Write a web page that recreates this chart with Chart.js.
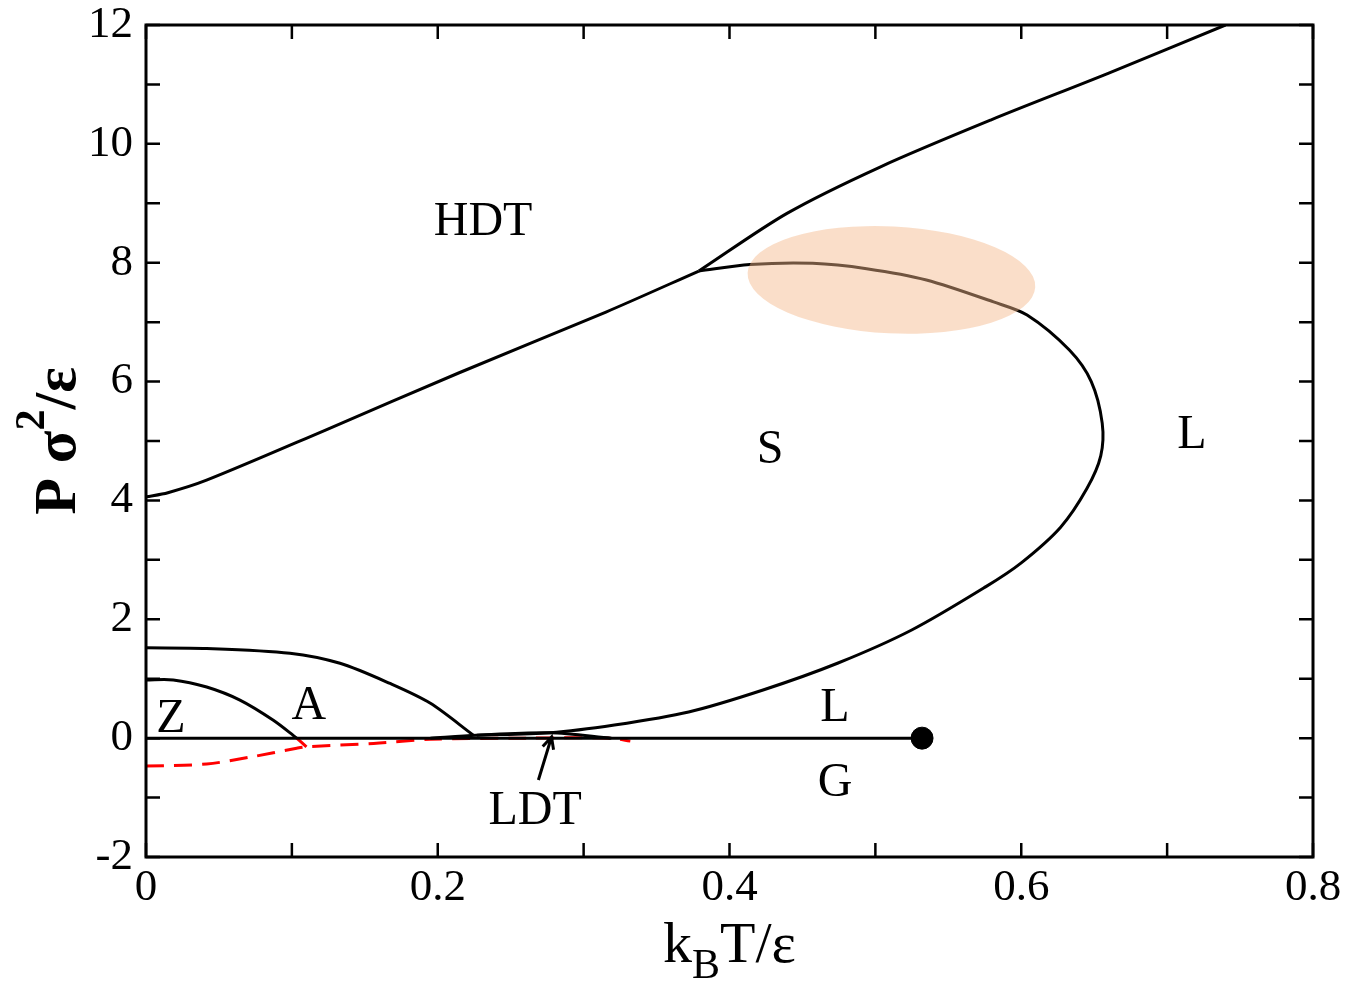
<!DOCTYPE html>
<html>
<head>
<meta charset="utf-8">
<script src="https://cdn.jsdelivr.net/npm/chart.js@4"></script>
<style>
  body { margin: 0; background: #fff; }
</style>
</head>
<body>
<canvas id="myChart" width="1346" height="990"></canvas>
<script>
// phase boundaries (T = kB T/eps, P = P sigma^2/eps)
var upperT = [0, 0.015, 0.0415, 0.1227, 0.2139, 0.3153, 0.379];
var upperP = [4.06, 4.13, 4.34, 5.18, 6.14, 7.17, 7.86];

var hdtT = [0.379, 0.4394, 0.5032, 0.579, 0.660, 0.740];
var hdtP = [7.86, 8.83, 9.61, 10.40, 11.19, 12.0];

var meltT = [0.379, 0.414, 0.457, 0.494, 0.535, 0.581, 0.604, 0.633, 0.648, 0.6555, 0.6545, 0.645, 0.627, 0.600, 0.5758, 0.5249, 0.474, 0.423, 0.372, 0.3211, 0.277, 0.2267];
var meltP = [7.86, 7.97, 7.99, 7.90, 7.71, 7.34, 7.12, 6.53, 6.0, 5.3, 4.75, 4.20, 3.55, 2.95, 2.55, 1.82, 1.26, 0.81, 0.44, 0.22, 0.09, 0.05];

var asT = [0, 0.0416, 0.0987, 0.133, 0.1673, 0.1947, 0.2244];
var asP = [1.52, 1.51, 1.43, 1.26, 0.92, 0.59, 0.05];

var zaT = [0, 0.0187, 0.0416, 0.0644, 0.0873, 0.1033];
var zaP = [0.98, 0.98, 0.86, 0.64, 0.30, 0.0];

var ldtT = [0.195, 0.2267, 0.277, 0.319];
var ldtP = [0.0, 0.05, 0.09, 0.0];

var lgT = [0, 0.532];
var lgP = [0, 0];
var criticalT = [0.532];
var criticalP = [0];

var redT = [0, 0.0416, 0.0713, 0.1033, 0.110, 0.156, 0.195, 0.26, 0.318, 0.332];
var redP = [-0.47, -0.435, -0.32, -0.17, -0.145, -0.09, -0.02, 0.0, 0.0, -0.05];
var redStubT = [0.1033, 0.110];
var redStubP = [0.0, -0.145];

var xTicks = [0, 0.2, 0.4, 0.6, 0.8];
var yTicks = [-2, 0, 2, 4, 6, 8, 10, 12];

var regionNames = ['HDT', 'S', 'L', 'L', 'Z', 'A', 'G', 'LDT'];
var regionT = [0.2311, 0.4278, 0.717, 0.4723, 0.0171, 0.1117, 0.4723, 0.2667];
var regionP = [8.47, 4.63, 4.88, 0.29, 0.11, 0.32, -0.98, -1.45];

var arrowFrom = [0.269, -0.705];
var arrowTo = [0.278, 0.02];

var ellipseCenter = [0.511, 7.71];
var ellipseRadii = [0.0987, 0.90];

function pts(t, p) {
    return t.map(function(v, i) { return {x: v, y: p[i]}; });
}

function line(t, p, color, order, dash) {
    return {
        data: pts(t, p),
        showLine: true,
        borderColor: color,
        borderWidth: 3,
        borderDash: dash || [],
        pointRadius: 0,
        tension: 0.3,
        fill: false,
        order: order
    };
}

var serif = '"Liberation Serif", "Times New Roman", serif';

// draws a run of [text, sizeScale, yShift] pieces centred on x
function drawRich(ctx, pieces, x, y, size, weight) {
    var w = 0;
    pieces.forEach(function(pc) {
        ctx.font = weight + ' ' + Math.round(size * pc[1]) + 'px ' + serif;
        w += ctx.measureText(pc[0]).width;
    });
    var cx = x - w / 2;
    pieces.forEach(function(pc) {
        ctx.font = weight + ' ' + Math.round(size * pc[1]) + 'px ' + serif;
        ctx.fillText(pc[0], cx, y + pc[2]);
        cx += ctx.measureText(pc[0]).width;
    });
}

var decorations = {
    id: 'decorations',
    afterDatasetsDraw: function(chart) {
        var ctx = chart.ctx, a = chart.chartArea;
        var x = chart.scales.x, y = chart.scales.y;

        // shaded ellipse over the melting line
        var ex = x.getPixelForValue(ellipseCenter[0]);
        var ey = y.getPixelForValue(ellipseCenter[1]);
        var rx = x.getPixelForValue(ellipseCenter[0] + ellipseRadii[0]) - ex;
        var ry = ey - y.getPixelForValue(ellipseCenter[1] + ellipseRadii[1]);
        ctx.save();
        ctx.beginPath();
        ctx.ellipse(ex, ey, rx, ry, 0.05, 0, 2 * Math.PI);
        ctx.fillStyle = 'rgba(244, 182, 138, 0.46)';
        ctx.fill();
        ctx.restore();

        // frame and inward ticks on all four sides
        ctx.save();
        ctx.strokeStyle = '#000';
        ctx.lineWidth = 3;
        ctx.strokeRect(a.left, a.top, a.right - a.left, a.bottom - a.top);
        ctx.lineWidth = 2.5;
        var len = 14;
        ctx.beginPath();
        x.ticks.forEach(function(t) {
            var px = x.getPixelForValue(t.value);
            ctx.moveTo(px, a.bottom); ctx.lineTo(px, a.bottom - len);
            ctx.moveTo(px, a.top); ctx.lineTo(px, a.top + len);
        });
        y.ticks.forEach(function(t) {
            var py = y.getPixelForValue(t.value);
            ctx.moveTo(a.left, py); ctx.lineTo(a.left + len, py);
            ctx.moveTo(a.right, py); ctx.lineTo(a.right - len, py);
        });
        ctx.stroke();

        // region labels
        ctx.fillStyle = '#000';
        ctx.font = '48px ' + serif;
        ctx.textAlign = 'center';
        ctx.textBaseline = 'alphabetic';
        regionNames.forEach(function(n, i) {
            ctx.fillText(n, x.getPixelForValue(regionT[i]), y.getPixelForValue(regionP[i]));
        });

        // arrow to the LDT pocket
        var x0 = x.getPixelForValue(arrowFrom[0]), y0 = y.getPixelForValue(arrowFrom[1]);
        var x1 = x.getPixelForValue(arrowTo[0]), y1 = y.getPixelForValue(arrowTo[1]);
        var ang = Math.atan2(y1 - y0, x1 - x0);
        ctx.lineWidth = 3;
        ctx.beginPath();
        ctx.moveTo(x0, y0); ctx.lineTo(x1, y1);
        ctx.moveTo(x1 - 13 * Math.cos(ang - 0.45), y1 - 13 * Math.sin(ang - 0.45));
        ctx.lineTo(x1, y1);
        ctx.lineTo(x1 - 13 * Math.cos(ang + 0.45), y1 - 13 * Math.sin(ang + 0.45));
        ctx.stroke();

        // axis titles
        ctx.textAlign = 'left';
        drawRich(ctx, [['k', 1, 0], ['B', 0.72, 16], ['T/\u03b5', 1, 0]], (a.left + a.right) / 2, 962, 58, 'normal');
        ctx.translate(75, (a.top + a.bottom) / 2);
        ctx.rotate(-Math.PI / 2);
        drawRich(ctx, [['P \u03c3', 1, 0], ['2', 0.7, -31], ['/\u03b5', 1, 0]], 0, 0, 60, 'bold');
        ctx.restore();
    }
};

var ctx = document.getElementById('myChart');
var myChart = new Chart(ctx, {
    type: 'scatter',
    data: {
        datasets: [
            line(upperT, upperP, '#000', 1),
            line(hdtT, hdtP, '#000', 1),
            line(meltT, meltP, '#000', 1),
            line(asT, asP, '#000', 1),
            line(zaT, zaP, '#000', 1),
            line(ldtT, ldtP, '#000', 1),
            line(lgT, lgP, '#000', 1),
            {
                data: pts(criticalT, criticalP),
                pointRadius: 11,
                pointBackgroundColor: '#000',
                pointBorderColor: '#000',
                order: 0
            },
            line(redStubT, redStubP, 'rgb(255, 0, 0)', 5),
            line(redT, redP, 'rgb(255, 0, 0)', 5, [18, 10])
        ]
    },
    options: {
        responsive: false,
        animation: false,
        layout: { padding: { top: 25, right: 33, left: 0, bottom: 0 } },
        plugins: { legend: { display: false }, tooltip: { enabled: false } },
        scales: {
            x: {
                type: 'linear',
                min: 0, max: 0.8,
                afterFit: function(s) { s.height = 133; },
                grid: { display: false, drawTicks: false },
                border: { display: false },
                ticks: {
                    stepSize: 0.1,
                    autoSkip: false,
                    maxRotation: 0,
                    padding: 4,
                    color: '#000',
                    font: { family: serif, size: 45 },
                    callback: function(v) {
                        var r = Math.round(v * 10) / 10;
                        return xTicks.indexOf(r) >= 0 ? String(r) : '';
                    }
                }
            },
            y: {
                type: 'linear',
                min: -2, max: 12,
                afterFit: function(s) { s.width = 146; },
                grid: { display: false, drawTicks: false },
                border: { display: false },
                ticks: {
                    stepSize: 1,
                    autoSkip: false,
                    padding: 13,
                    color: '#000',
                    font: { family: serif, size: 45, lineHeight: 0.5 },
                    callback: function(v) {
                        return yTicks.indexOf(v) >= 0 ? String(v) : '';
                    }
                }
            }
        }
    },
    plugins: [decorations]
});
</script>
</body>
</html>
